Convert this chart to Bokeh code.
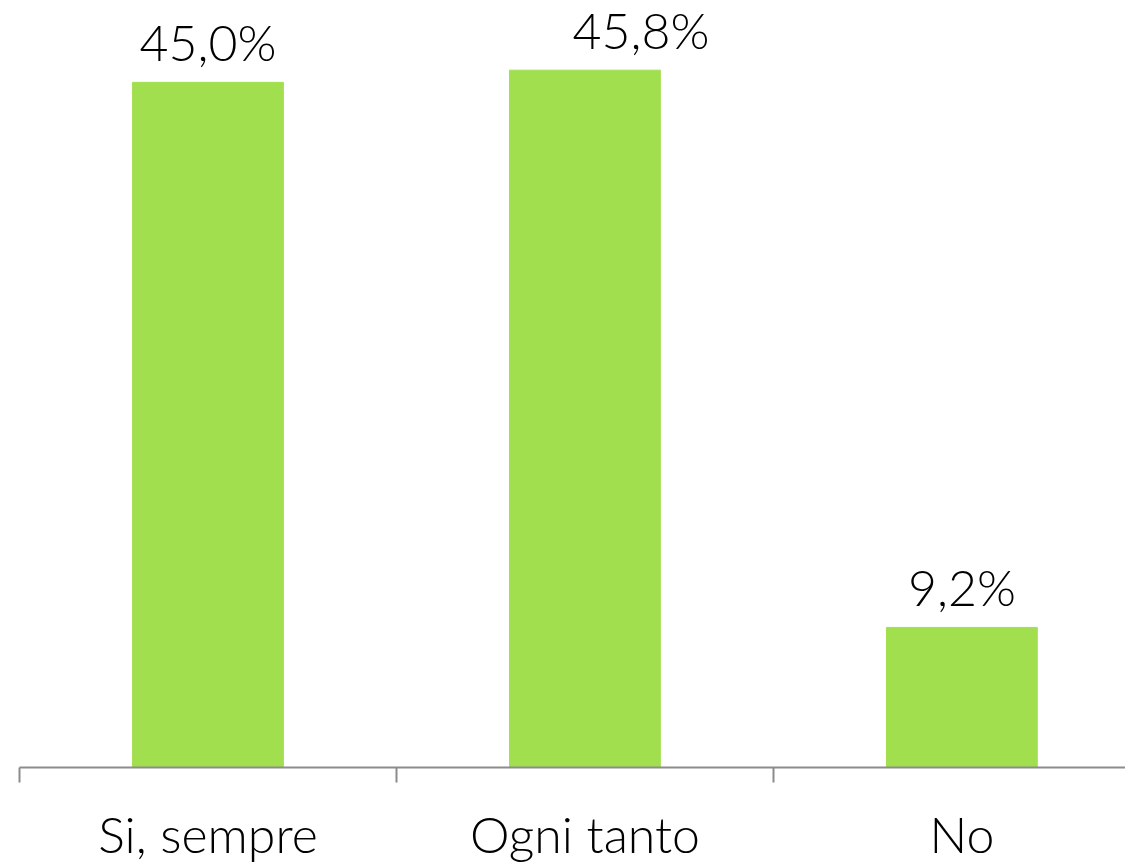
from bokeh.plotting import figure
from bokeh.models import ColumnDataSource, Range1d, FixedTicker, Label
from bokeh.embed import file_html
from bokeh.resources import INLINE

categories = ["Si, sempre", "Ogni tanto", "No"]
values = [45.0, 45.8, 9.2]
value_labels = ["45,0%", "45,8%", "9,2%"]

FONT = "Lato Light"
GREEN = "#a2df4f"
AXIS = "#8c8c8c"

centers = [i + 0.5 for i in range(len(categories))]
src = ColumnDataSource(dict(x=centers, top=values, lab=value_labels, cat=categories))

p = figure(width=1125, height=866, output_backend="svg", toolbar_location=None,
           x_range=Range1d(0, 2.934), y_range=Range1d(0, 49.85),
           min_border_left=19, min_border_right=0, min_border_top=8, min_border_bottom=98)
p.outline_line_color = None
p.background_fill_color = "white"
p.border_fill_color = "white"
p.xgrid.visible = False
p.ygrid.visible = False
p.yaxis.visible = False

p.vbar(x="x", top="top", bottom=0, width=0.40, source=src,
       fill_color=GREEN, line_color=GREEN, line_width=1)

ax = p.xaxis[0]
ax.ticker = FixedTicker(ticks=centers, minor_ticks=[0, 1, 2, 3])
ax.major_label_overrides = {c: t for c, t in zip(centers, categories)}
ax.major_tick_out = 0
ax.major_tick_in = 0
ax.minor_tick_out = 15
ax.minor_tick_in = 0
ax.minor_tick_line_color = AXIS
ax.minor_tick_line_width = 2
ax.axis_line_color = AXIS
ax.axis_line_width = 2
ax.major_label_text_font = FONT
ax.major_label_text_font_size = "50px"
ax.major_label_text_color = "#000000"
ax.major_label_standoff = 21

# first and third value labels centred; second shifted as in the reference
for i in range(len(values)):
    off = 56 if i == 1 else 0
    p.add_layout(Label(x=centers[i], y=values[i], text=value_labels[i],
                       x_offset=off, y_offset=40,
                       text_align="center", text_baseline="alphabetic",
                       text_font=FONT, text_font_size="50px", text_color="#000000"))

open("out.html", "w").write(file_html(p, INLINE))
